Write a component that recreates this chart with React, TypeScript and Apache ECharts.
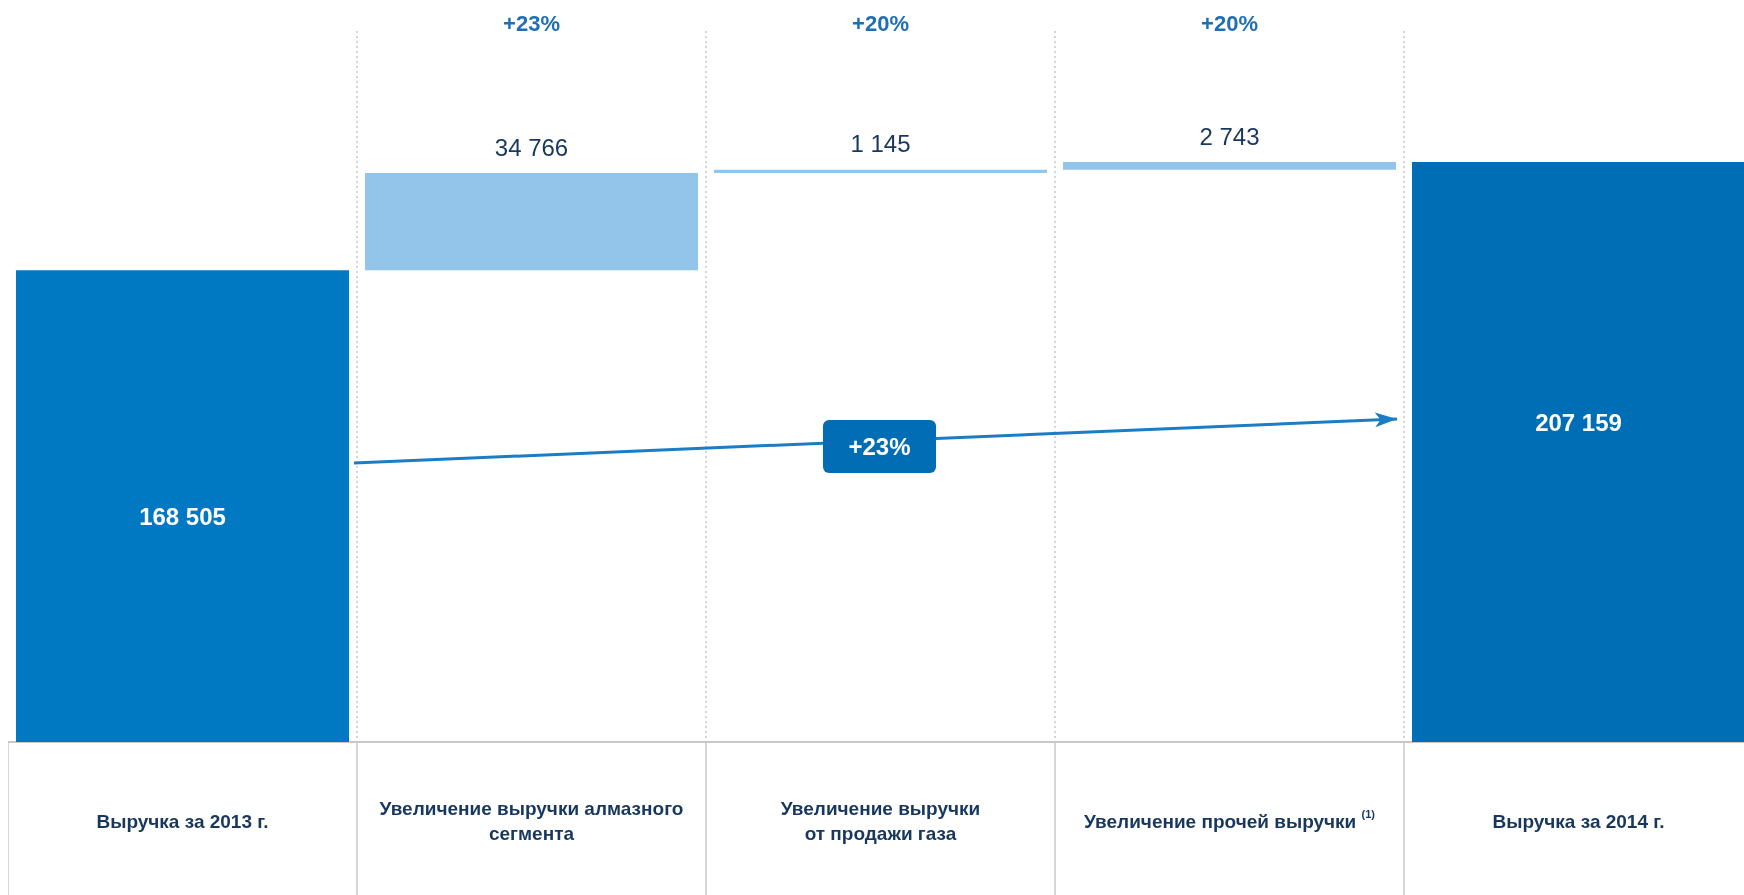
import React, { useEffect, useRef } from "react";
import * as echarts from "echarts";

const categories = [
  "Выручка за 2013 г.",
  "Увеличение выручки алмазного\nсегмента",
  "Увеличение выручки\nот продажи газа",
  "Увеличение прочей выручки (1)",
  "Выручка за 2014 г.",
];
const startValue = 168505;
const changes = [34766, 1145, 2743];
const endValue = 207159;
const growthLabels = ["", "+23%", "+20%", "+20%", ""];
const totalGrowth = "+23%";

const FONT = '"Liberation Sans", Arial, sans-serif';
const NAVY = "#17375e";

const fmt = (n: number) => String(n).replace(/\B(?=(\d{3})+(?!\d))/g, " ");

export default function App() {
  const ref = useRef<HTMLDivElement>(null);
  useEffect(() => {
    if (!ref.current) return;
    const chart = echarts.init(ref.current, undefined, { renderer: "svg" });

    const visible = [startValue, ...changes, endValue];
    const base: number[] = [0];
    let acc = startValue;
    changes.forEach((c) => {
      base.push(acc);
      acc += c;
    });
    base.push(0);

    const colors = ["#0079c2", "#93c5ea", "#93c5ea", "#93c5ea", "#006eb4"];

    const visData = visible.map((v, i) => {
      const isTotal = i === 0 || i === visible.length - 1;
      return {
        value: v,
        itemStyle: { color: colors[i] },
        label: isTotal
          ? {
              show: true,
              position: "inside",
              color: "#ffffff",
              fontWeight: "bold",
              fontSize: 24,
              lineHeight: 24,
              fontFamily: FONT,
              offset: i === 0 ? [0, 10] : [0, -30],
            }
          : {
              show: true,
              position: "top",
              distance: 14,
              color: NAVY,
              fontSize: 24,
              lineHeight: 24,
              fontFamily: FONT,
            },
      };
    });

    chart.setOption({
      animation: false,
      grid: { left: 0, right: 0, top: 23, bottom: 153, containLabel: false },
      xAxis: [
        {
          type: "category",
          data: categories,
          position: "bottom",
          boundaryGap: true,
          axisLine: { show: true, lineStyle: { color: "#c8c8c8", width: 2 } },
          axisTick: {
            show: true,
            interval: 0,
            length: 153,
            alignWithLabel: false,
            lineStyle: { color: "#c8c8c8", width: 1.5 },
          },
          splitLine: {
            show: true,
            interval: 0,
            showMinLine: false,
            showMaxLine: false,
            lineStyle: { color: "#c8c8c8", width: 1.5, type: [2, 3] },
          },
          axisLabel: {
            interval: 0,
            margin: 79,
            verticalAlign: "middle",
            color: NAVY,
            fontWeight: "bold",
            fontSize: 19,
            lineHeight: 25,
            fontFamily: FONT,
            formatter: (v: string) => v.replace("(1)", "{sup|(1)}"),
            rich: {
              sup: {
                fontSize: 11,
                fontWeight: "bold",
                color: NAVY,
                fontFamily: FONT,
                lineHeight: 14,
                verticalAlign: "top",
              },
            },
          },
        },
        {
          type: "category",
          data: categories,
          position: "top",
          boundaryGap: true,
          axisLine: { show: false },
          axisTick: { show: false },
          splitLine: { show: false },
          axisLabel: {
            interval: 0,
            margin: 8,
            verticalAlign: "middle",
            color: "#1f6fb6",
            fontWeight: "bold",
            fontSize: 22,
            lineHeight: 22,
            fontFamily: FONT,
            formatter: (_: string, i: number) => growthLabels[i],
          },
        },
      ],
      yAxis: {
        type: "value",
        min: 0,
        max: 254000,
        show: false,
        splitLine: { show: false },
      },
      series: [
        {
          type: "bar",
          stack: "w",
          barWidth: 333,
          silent: true,
          itemStyle: { color: "rgba(0,0,0,0)" },
          data: base,
        },
        {
          type: "bar",
          stack: "w",
          barWidth: 333,
          data: visData,
          label: { formatter: (p: any) => fmt(p.value) },
          markLine: {
            silent: true,
            symbol: ["none", "arrow"],
            symbolSize: [11, 22],
            lineStyle: { color: "#1a7dc5", width: 3, type: "solid" },
            label: { show: false },
            data: [[{ x: 346, y: 455 }, { x: 1389, y: 411 }]],
          },
        },
      ],
      graphic: [
        {
          type: "rect",
          z: 100,
          shape: { x: 815, y: 412, width: 113, height: 53, r: 6 },
          style: { fill: "#006db5" },
        },
        {
          type: "text",
          z: 101,
          x: 871.5,
          y: 438.5,
          style: {
            text: totalGrowth,
            fill: "#ffffff",
            fontSize: 24,
            fontWeight: "bold",
            fontFamily: FONT,
            textAlign: "center",
            textVerticalAlign: "middle",
          },
        },
      ],
    });
    return () => chart.dispose();
  }, []);
  return (
    <div
      style={{
        position: "fixed",
        left: 8,
        top: 8,
        width: 1736,
        height: 887,
        overflow: "hidden",
      }}
    >
      <div ref={ref} style={{ width: 1745, height: 887 }} />
    </div>
  );
}
